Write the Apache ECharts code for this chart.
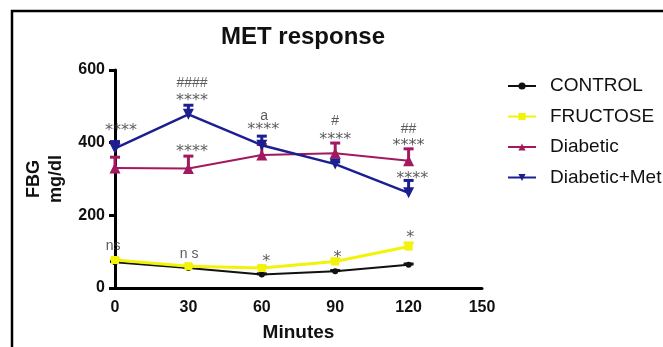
<!DOCTYPE html>
<html>
<head>
<meta charset="utf-8">
<script src="https://cdn.jsdelivr.net/npm/echarts@6/dist/echarts.min.js"></script>
<style>
  html, body { margin: 0; padding: 0; background: #fff; }
  #chart { width: 663px; height: 347px; }
</style>
</head>
<body>
<div id="chart"></div>
<script>
// time points (minutes)
const minutes = [0, 30, 60, 90, 120];
const xTicks = [0, 30, 60, 90, 120, 150];
const yTicks = [0, 200, 400, 600];

// mean FBG (mg/dl) and error (upper bar only)
const control = [71, 55, 37, 46, 64];
const controlErr = [2, 2, 2, 2, 2];
const fructose = [77, 60, 55, 73, 114];
const fructoseErr = [3, 3, 5, 7, 10];
const diabetic = [330, 329, 366, 371, 350];
const diabeticErr = [30, 34, 29, 28, 33];
const diabeticMet = [384, 478, 393, 341, 262];
const diabeticMetErr = [19, 25, 25, 6, 34];

// significance marks: x (minutes), y (mg/dl), text
const markX = [2.5, 31.5, 31.5, 31.5, 61, 60.6, 90, 90, 120, 120, 121.5, -0.8, 30.3, 61.8, 90.9, 120.7];
const markY = [444, 565, 525, 387, 473, 447, 460, 420, 438, 401, 312, 116, 94, 83, 94, 148];
const markText = ['****', '####', '****', '****', 'a', '****', '#', '****', '##', '****', '****', 'ns', 'n s', '*', '*', '*'];

const names = ['CONTROL', 'FRUCTOSE', 'Diabetic', 'Diabetic+Met'];
const colors = ['#111111', '#F2F20A', '#A3185E', '#1B1F8F'];

const chart = echarts.init(document.getElementById('chart'));

function pairs(vals) {
  return minutes.map((m, i) => [m, vals[i]]);
}

function errorSeries(vals, errs, color) {
  return {
    type: 'custom',
    data: minutes.map((m, i) => [m, vals[i], errs[i]]),
    z: 1,
    silent: true,
    renderItem: function (params, api) {
      const x = api.value(0);
      const y = api.value(1);
      const top = api.coord([x, y + api.value(2)]);
      const base = api.coord([x, y]);
      return {
        type: 'group',
        children: [
          { type: 'line', shape: { x1: base[0], y1: base[1], x2: top[0], y2: top[1] },
            style: { stroke: color, lineWidth: 3 } },
          { type: 'line', shape: { x1: top[0] - 5, y1: top[1], x2: top[0] + 5, y2: top[1] },
            style: { stroke: color, lineWidth: 3 } }
        ]
      };
    }
  };
}

const lineSeries = [
  { name: names[0], data: pairs(control), symbol: 'circle', symbolSize: 6, width: 2 },
  { name: names[1], data: pairs(fructose), symbol: 'rect', symbolSize: 8, width: 3 },
  { name: names[2], data: pairs(diabetic), symbol: 'triangle', symbolSize: 11, width: 2 },
  { name: names[3], data: pairs(diabeticMet), symbol: 'triangle', symbolSize: 11, width: 2.5, rotate: 180 }
].map((s, i) => ({
  type: 'line',
  name: s.name,
  data: s.data,
  symbol: s.symbol,
  symbolSize: s.symbolSize,
  symbolRotate: s.rotate || 0,
  showSymbol: true,
  z: 2,
  itemStyle: { color: colors[i] },
  lineStyle: { color: colors[i], width: s.width }
}));

const marks = {
  type: 'scatter',
  symbolSize: 0,
  clip: false,
  silent: true,
  z: 5,
  data: markX.map((x, i) => {
    const stars = markText[i].indexOf('*') >= 0;
    return {
      value: [x, markY[i]],
      label: {
        show: true,
        position: 'inside',
        formatter: markText[i],
        color: '#333',
        fontFamily: stars ? 'DejaVu Sans' : 'Liberation Sans, Arial',
        fontSize: stars ? 16 : 14,
        offset: stars ? [0, 4] : [0, 0]
      }
    };
  })
};

chart.setOption({
  animation: false,
  backgroundColor: '#fff',
  title: {
    text: 'MET response',
    left: 298,
    top: 20,
    textAlign: 'center',
    textStyle: { fontFamily: 'Liberation Sans, Arial', fontWeight: 'bold', fontSize: 24, color: '#111' }
  },
  grid: { left: 115, right: 181, top: 70, bottom: 54 },
  legend: {
    data: names,
    orient: 'vertical',
    left: 507,
    top: 76,
    padding: 0,
    itemWidth: 28,
    itemHeight: 9,
    itemGap: 10.5,
    textStyle: { fontFamily: 'Liberation Sans, Arial', fontSize: 19, color: '#111', lineHeight: 20, padding: [0, 0, 0, 9] }
  },
  xAxis: {
    type: 'value',
    min: 0,
    max: 150,
    interval: 30,
    name: 'Minutes',
    nameLocation: 'middle',
    nameGap: 35,
    nameTextStyle: { fontFamily: 'Liberation Sans, Arial', fontWeight: 'bold', fontSize: 19, color: '#111' },
    axisLine: { lineStyle: { color: '#000', width: 3 } },
    axisTick: { show: false },
    splitLine: { show: false },
    axisLabel: {
      margin: 12,
      fontFamily: 'Liberation Sans, Arial', fontWeight: 'bold', fontSize: 16, color: '#111',
      formatter: v => xTicks.indexOf(v) >= 0 ? String(v) : ''
    }
  },
  yAxis: {
    type: 'value',
    min: 0,
    max: 600,
    interval: 200,
    name: 'FBG\nmg/dl',
    nameLocation: 'middle',
    nameGap: 47,
    nameRotate: 90,
    nameTextStyle: { fontFamily: 'Liberation Sans, Arial', fontWeight: 'bold', fontSize: 18, color: '#111', lineHeight: 22 },
    axisLine: { show: true, lineStyle: { color: '#000', width: 3 } },
    axisTick: { show: true, length: 6, lineStyle: { color: '#000', width: 3 } },
    splitLine: { show: false },
    axisLabel: {
      margin: 10,
      fontFamily: 'Liberation Sans, Arial', fontWeight: 'bold', fontSize: 16, color: '#111',
      formatter: v => yTicks.indexOf(v) >= 0 ? String(v) : ''
    }
  },
  graphic: [{
    type: 'polyline',
    shape: { points: [[12, 400], [12, 11], [700, 11]] },
    style: { stroke: '#000', lineWidth: 2.5, fill: null },
    z: 10
  }],
  series: [
    errorSeries(control, controlErr, colors[0]),
    errorSeries(fructose, fructoseErr, colors[1]),
    errorSeries(diabetic, diabeticErr, colors[2]),
    errorSeries(diabeticMet, diabeticMetErr, colors[3])
  ].concat(lineSeries).concat([marks])
});
</script>
</body>
</html>
